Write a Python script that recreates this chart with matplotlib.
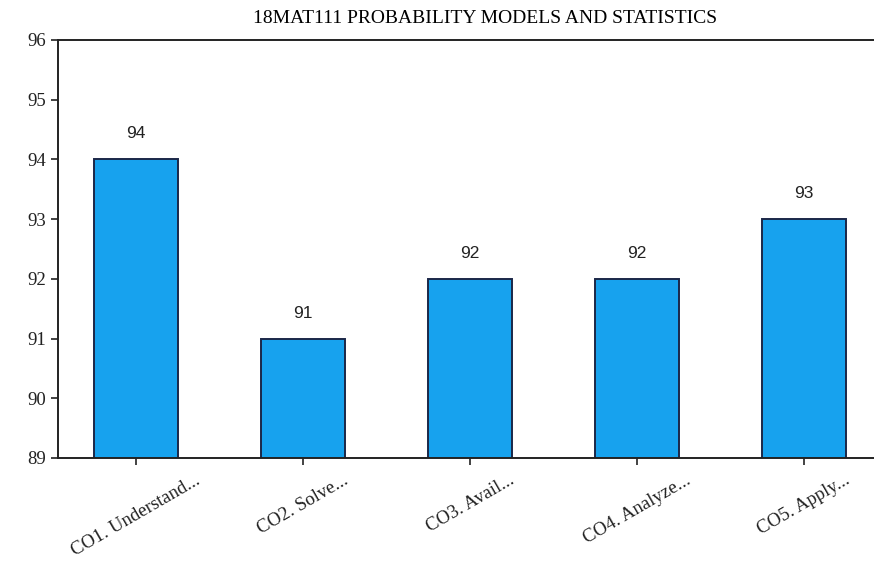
import matplotlib
matplotlib.use("Agg")
import matplotlib.pyplot as plt

categories = ["CO1. Understand...", "CO2. Solve...", "CO3. Avail...", "CO4. Analyze...", "CO5. Apply..."]
values = [94, 91, 92, 92, 93]
yticks = [89, 90, 91, 92, 93, 94, 95, 96]
title = "18MAT111 PROBABILITY MODELS AND STATISTICS"

plt.rcParams['font.family'] = ['Liberation Serif', 'DejaVu Serif']

fig = plt.figure(figsize=(8.74, 5.71), dpi=100)
ax = fig.add_axes([0.066, 0.198, 0.934, 0.732])
x = list(range(len(categories)))
bars = ax.bar(x, values, width=0.5, bottom=0, color='#17a2ee', edgecolor='#1b2748', linewidth=1.4, zorder=2)
ax.set_ylim(89, 96)
ax.set_xlim(-0.47, 4.42)
ax.set_yticks(yticks)
ax.set_yticklabels([str(t) for t in yticks], fontsize=13.5)
ax.set_xticks(x)
ax.set_xticklabels(categories, rotation=30, ha='center', fontsize=13.5)
for xi, v in zip(x, values):
    ax.text(xi, v + 0.3, str(v), ha='center', va='bottom', fontsize=12.5,
            family=['Liberation Sans', 'DejaVu Sans'], color='#222222')
ax.spines['right'].set_visible(False)
for s in ['left', 'bottom', 'top']:
    ax.spines[s].set_linewidth(1.4)
    ax.spines[s].set_color('#222222')
ax.tick_params(axis='both', direction='out', length=5, width=1.2, colors='#222222')
ax.tick_params(axis='x', pad=5)
fig.suptitle(title, x=0.555, y=0.983, fontsize=14, va='top')
fig.savefig("out.png", dpi=100, facecolor='white')
